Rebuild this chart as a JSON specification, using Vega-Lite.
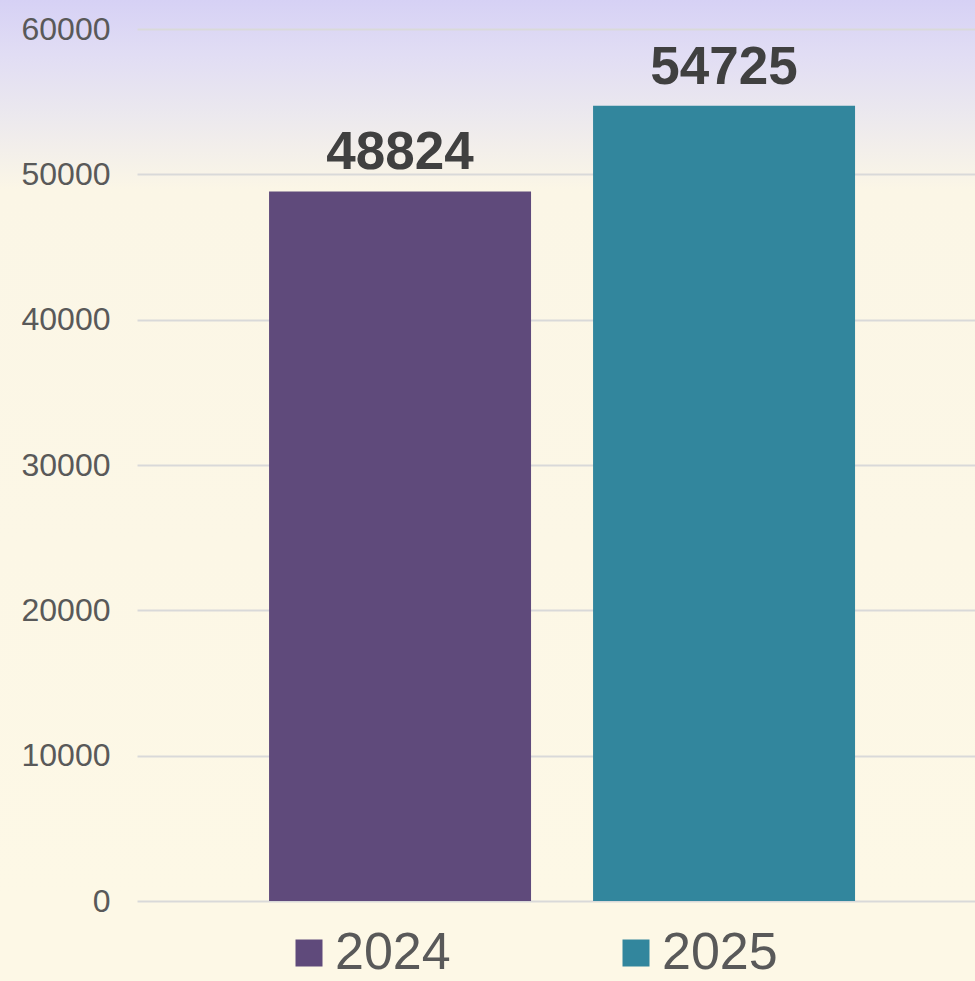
{
  "$schema": "https://vega.github.io/schema/vega-lite/v6.json",
  "autosize": {"type": "none"},
  "padding": {"left": 0, "top": 0, "right": 0, "bottom": 80},
  "width": 975,
  "height": 901,
  "background": "#fdf8e6",
  "config": {
    "view": {
      "stroke": null,
      "fill": {
        "gradient": "linear",
        "x1": 0, "y1": 0, "x2": 0, "y2": 1,
        "stops": [
          {"offset": 0, "color": "#d6d1f5"},
          {"offset": 0.06, "color": "#e1ddf4"},
          {"offset": 0.13, "color": "#ece9ee"},
          {"offset": 0.21, "color": "#fbf6e6"},
          {"offset": 1, "color": "#fdf8e6"}
        ]
      }
    },
    "font": "Liberation Sans"
  },
  "data": {
    "values": [
      {"year": "2024", "value": 48824},
      {"year": "2025", "value": 54725}
    ]
  },
  "encoding": {
    "x": {
      "field": "year",
      "type": "nominal",
      "axis": null,
      "scale": {"range": [137, 975], "paddingInner": 0.1914, "paddingOuter": 0.3889, "align": 0.524}
    },
    "y": {
      "field": "value",
      "type": "quantitative",
      "scale": {"domain": [0, 62000], "nice": false, "zero": true},
      "axis": {
        "title": null,
        "offset": -137,
        "values": [0, 10000, 20000, 30000, 40000, 50000, 60000],
        "format": "d",
        "domain": false,
        "ticks": false,
        "labelPadding": 27,
        "labelFontSize": 32,
        "labelColor": "#595959",
        "labelFont": "Liberation Sans",
        "gridColor": "#d9d9d9",
        "gridWidth": 2
      }
    }
  },
  "layer": [
    {
      "mark": {"type": "bar"},
      "encoding": {
        "color": {
          "field": "year",
          "type": "nominal",
          "scale": {"domain": ["2024", "2025"], "range": ["#5f4a7b", "#32869d"]},
          "legend": {
            "title": null,
            "orient": "none",
            "direction": "horizontal",
            "legendX": 283,
            "legendY": 927,
            "padding": 0,
            "symbolType": "square",
            "symbolSize": 729,
            "symbolStrokeWidth": 0,
            "symbolOpacity": 1,
            "labelFontSize": 52,
            "labelColor": "#595959",
            "labelFont": "Liberation Sans",
            "labelOffset": 0,
            "columnPadding": 159
          }
        }
      }
    },
    {
      "mark": {
        "type": "text",
        "baseline": "alphabetic",
        "dy": -22,
        "fontSize": 53,
        "fontWeight": "bold",
        "color": "#404040",
        "font": "Liberation Sans"
      },
      "encoding": {
        "text": {"field": "value", "type": "quantitative", "format": "d"}
      }
    }
  ]
}
